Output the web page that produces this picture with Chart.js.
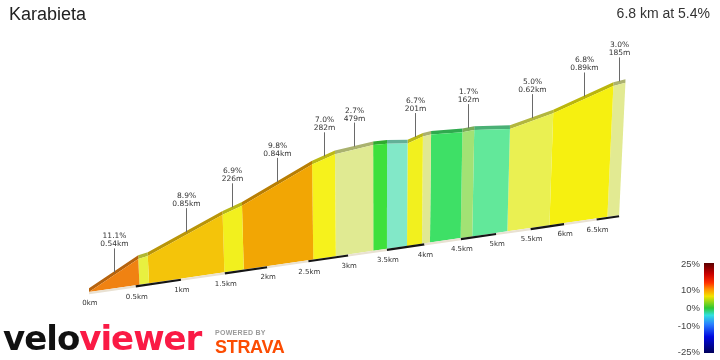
<!DOCTYPE html>
<html>
<head>
<meta charset="utf-8">
<title>Karabieta</title>
<script src="https://cdn.jsdelivr.net/npm/chart.js"></script>
<style>
  body { margin: 0; background: #fff; }
  #wrap { position: relative; width: 720px; height: 360px; overflow: hidden; font-family: "Liberation Sans", Arial, sans-serif; }
  #profile { position: absolute; left: 0; top: 0; }
  .txt { position: absolute; line-height: 0; white-space: nowrap; }
  #title { left: 9px; top: 13.8px; font-size: 18px; color: #222; }
  #summary { right: 10px; top: 13.2px; font-size: 14px; color: #333; }
  #logo { left: 3px; top: 338px; font-family: "DejaVu Sans", sans-serif; font-weight: bold; font-size: 34px; letter-spacing: -1px; color: #111; }
  #logo span { color: #fa1a45; }
  #powered { left: 215px; top: 333.3px; font-weight: bold; font-size: 7px; color: #9a9a9a; letter-spacing: 0.3px; }
  #strava { left: 215px; top: 347px; font-weight: bold; font-size: 18px; color: #fc4c02; letter-spacing: -0.3px; }
</style>
</head>
<body>
<div id="wrap">
  <canvas id="profile" width="720" height="360"></canvas>
  <div class="txt" id="title">Karabieta</div>
  <div class="txt" id="summary">6.8 km at 5.4%</div>
  <div class="txt" id="logo">velo<span>viewer</span></div>
  <div class="txt" id="powered">POWERED BY</div>
  <div class="txt" id="strava">STRAVA</div>
</div>
<script>
// distance (km) and elevation gained (m) at every segment boundary
const dist = [0, 0.54, 0.645, 1.495, 1.721, 2.561, 2.843, 3.322, 3.50, 3.766, 3.967, 4.075, 4.497, 4.659, 5.159, 5.779, 6.669, 6.854];
const elev = [0, 60, 64, 139, 155, 237, 257, 270, 270, 265, 279, 282, 280, 283, 276, 307, 368, 374];

// one entry per segment
const segColors = ['#f08212', '#e8f040', '#f4c40a', '#f2f01e', '#f2a604', '#f6f21c', '#e0ea92',
  '#3ee03c', '#82e8c8', '#f2f01e', '#e0e892', '#3ee066', '#a2e274', '#62e89a', '#eaf052', '#f6f010', '#e2ea92'];
const gradeText = ['11.1%', '', '8.9%', '6.9%', '9.8%', '7.0%', '2.7%', '', '', '6.7%', '', '', '1.7%', '', '5.0%', '6.8%', '3.0%'];
const lengthText = ['0.54km', '', '0.85km', '226m', '0.84km', '282m', '479m', '', '', '201m', '', '', '162m', '', '0.62km', '0.89km', '185m'];

const xTicks = [0, 0.5, 1, 1.5, 2, 2.5, 3, 3.5, 4, 4.5, 5, 5.5, 6, 6.5];
const xTickLabels = ['0km', '0.5km', '1km', '1.5km', '2km', '2.5km', '3km', '3.5km', '4km', '4.5km', '5km', '5.5km', '6km', '6.5km'];
const legendTicks = ['25%', '10%', '0%', '-10%', '-25%'];

// pseudo 3D view: ground line rises to the right and shrinks with depth
const DEPTH = 0.0335;
const RISE = 31.7;
const LEAN = 8.7e-5;
const LEAN_AXIS = 3.06;

const P = d => d / (1 + DEPTH * d);
const Q = (d, h) => (RISE * d + h) / (1 + DEPTH * d);
const basePoint = d => ({ x: P(d), y: Q(d, 0) });
const topPoint = (d, h) => ({
    x: P(d) + LEAN * (Q(d, h) - Q(d, 0)) * (P(d) - LEAN_AXIS),
    y: Q(d, h)
});

function darker(hex, f) {
    const n = parseInt(hex.slice(1), 16);
    const r = Math.round(((n >> 16) & 255) * f);
    const g = Math.round(((n >> 8) & 255) * f);
    const b = Math.round((n & 255) * f);
    return 'rgb(' + r + ',' + g + ',' + b + ')';
}

const datasets = [];

// black / white half-km strip under the ground line
const stripDist = xTicks.concat([dist[dist.length - 1]]);
datasets.push({
    data: stripDist.map(d => ({ x: P(d), y: Q(d, 0) - 2.5 })),
    borderWidth: 2.2,
    borderColor: '#151515',
    fill: false,
    order: -1,
    segment: { borderColor: c => (c.p0DataIndex % 2 ? '#151515' : '#e9e1d2') }
});

for (let i = 0; i < segColors.length; i++) {
    const tl = topPoint(dist[i], elev[i]);
    const tr = topPoint(dist[i + 1], elev[i + 1]);
    // side face of the segment
    datasets.push({
        data: [tl, tr, basePoint(dist[i + 1]), basePoint(dist[i])],
        fill: 'shape',
        backgroundColor: segColors[i],
        borderWidth: 0
    });
    // road surface on top
    datasets.push({
        data: [{ x: tl.x, y: tl.y + 8.5 }, { x: tr.x, y: tr.y + 8.5 }, tr, tl],
        fill: 'shape',
        backgroundColor: darker(segColors[i], 0.76),
        borderWidth: 0
    });
}

const overlay = {
    id: 'overlay',
    afterDatasetsDraw(chart) {
        const { ctx, scales: { x, y } } = chart;
        ctx.save();

        // distance labels along the ground line
        ctx.font = '7px "DejaVu Sans"';
        ctx.fillStyle = '#333';
        ctx.textAlign = 'center';
        ctx.textBaseline = 'middle';
        xTicks.forEach((d, i) => {
            ctx.fillText(xTickLabels[i], x.getPixelForValue(P(d)) + 1, y.getPixelForValue(Q(d, 0)) + 11.5);
        });

        // segment gradient / length labels
        ctx.font = '7.5px "DejaVu Sans"';
        ctx.strokeStyle = '#6a6a6a';
        ctx.lineWidth = 1;
        for (let i = 0; i < gradeText.length; i++) {
            if (!gradeText[i]) continue;
            const pt = topPoint((dist[i] + dist[i + 1]) / 2, (elev[i] + elev[i + 1]) / 2);
            const px = Math.round(x.getPixelForValue(pt.x)) + 0.5;
            const py = y.getPixelForValue(pt.y);
            ctx.beginPath();
            ctx.moveTo(px, py - 3);
            ctx.lineTo(px, py - 27);
            ctx.stroke();
            ctx.fillStyle = '#333';
            ctx.fillText(gradeText[i], px, py - 39);
            ctx.fillText(lengthText[i], px, py - 31);
        }
        ctx.restore();
    },
    afterDraw(chart) {
        const ctx = chart.ctx;
        ctx.save();
        const top = 263, h = 90;
        const g = ctx.createLinearGradient(0, top, 0, top + h);
        g.addColorStop(0, '#5a0000');
        g.addColorStop(0.12, '#c80000');
        g.addColorStop(0.22, '#ff3000');
        g.addColorStop(0.29, '#ff9000');
        g.addColorStop(0.37, '#f2e400');
        g.addColorStop(0.5, '#2ec832');
        g.addColorStop(0.58, '#30e0e0');
        g.addColorStop(0.68, '#2a80ff');
        g.addColorStop(0.82, '#0008e0');
        g.addColorStop(1, '#00005a');
        ctx.fillStyle = g;
        ctx.fillRect(704, top, 10, h);

        ctx.font = '9.5px "Liberation Sans", Arial';
        ctx.fillStyle = '#444';
        ctx.textAlign = 'right';
        ctx.textBaseline = 'middle';
        const ys = [264.5, 290, 308.5, 326, 352];
        legendTicks.forEach((t, i) => ctx.fillText(t, 700, ys[i]));
        ctx.restore();
    }
};

new Chart(document.getElementById('profile'), {
    type: 'line',
    data: { datasets: datasets },
    options: {
        responsive: false,
        animation: false,
        events: [],
        layout: { padding: { left: 89, right: 60.4, top: 31, bottom: 59.3 } },
        elements: {
            point: { radius: 0, hoverRadius: 0 },
            line: { tension: 0, borderWidth: 0 }
        },
        plugins: {
            legend: { display: false },
            tooltip: { enabled: false }
        },
        scales: {
            x: { type: 'linear', min: 0, max: 6, display: false },
            y: { type: 'linear', min: -20, max: 600, display: false }
        }
    },
    plugins: [overlay]
});
</script>
</body>
</html>
